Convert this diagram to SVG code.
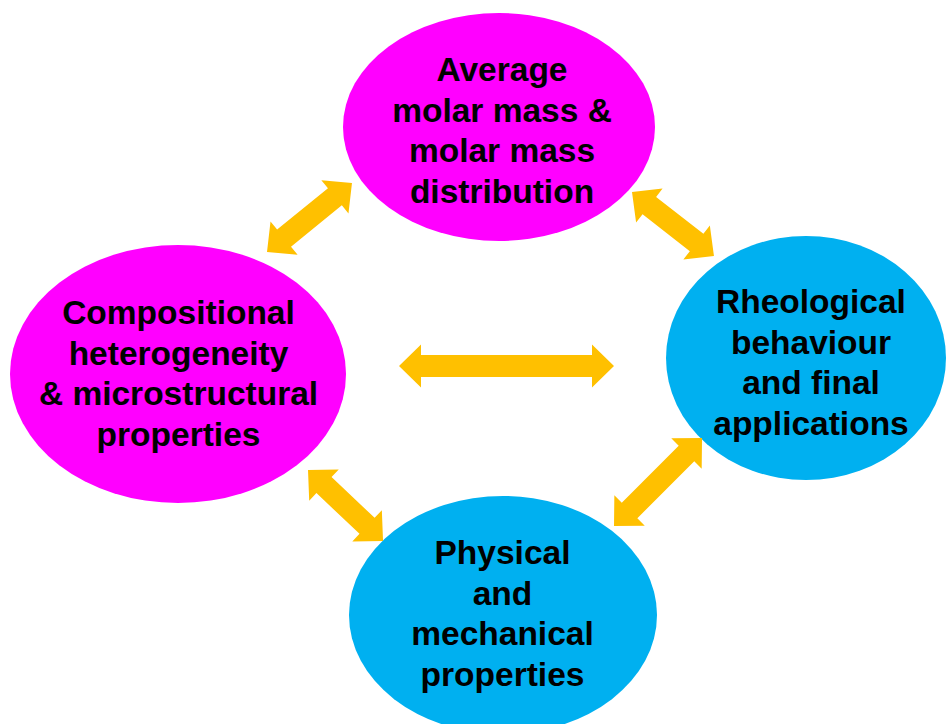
<svg xmlns="http://www.w3.org/2000/svg" width="946" height="724" viewBox="0 0 946 724">
<style>
.m{fill:#FF00FF}
.b{fill:#00B0F0}
.a{fill:#FFC000}
text{font-family:"Liberation Sans",Arial,sans-serif;font-weight:bold;font-size:33.5px;fill:#000;text-anchor:middle}
</style>
<rect width="946" height="724" fill="#fff"/>
<g id="n-molar">
<ellipse class="m" cx="499" cy="127" rx="156" ry="114"/>
<text x="502" y="81">Average</text>
<text x="502" y="121.5">molar mass &amp;</text>
<text x="502" y="162">molar mass</text>
<text x="502" y="202.5">distribution</text>
</g>
<g id="n-comp">
<ellipse class="m" cx="178" cy="374" rx="168" ry="129"/>
<text x="178.5" y="324">Compositional</text>
<text x="178.5" y="364.5">heterogeneity</text>
<text x="178.5" y="405">&amp; microstructural</text>
<text x="178.5" y="445.5">properties</text>
</g>
<g id="n-rheo">
<ellipse class="b" cx="806" cy="358" rx="140" ry="122"/>
<text x="811" y="313">Rheological</text>
<text x="811" y="353.5">behaviour</text>
<text x="811" y="394">and final</text>
<text x="811" y="434.5">applications</text>
</g>
<g id="n-phys">
<ellipse class="b" cx="503" cy="615" rx="154" ry="119"/>
<text x="502.5" y="564">Physical</text>
<text x="502.5" y="604.5">and</text>
<text x="502.5" y="645">mechanical</text>
<text x="502.5" y="685.5">properties</text>
</g>
<g id="connectors">
<path class="a" transform="translate(399,366)" d="M0,0 L22,-21.5 L22,-11 L193,-11 L193,-21.5 L215,0 L193,21.5 L193,11 L22,11 L22,21.5 Z"/>
<path class="a" transform="translate(267,252) rotate(-39.1)" d="M0,0 L22,-21.5 L22,-11 L87.5,-11 L87.5,-21.5 L109.5,0 L87.5,21.5 L87.5,11 L22,11 L22,21.5 Z"/>
<path class="a" transform="translate(632,192) rotate(38)" d="M0,0 L22,-21.5 L22,-11 L82,-11 L82,-21.5 L104,0 L82,21.5 L82,11 L22,11 L22,21.5 Z"/>
<path class="a" transform="translate(614,526) rotate(-45)" d="M0,0 L22,-21.5 L22,-11 L102.5,-11 L102.5,-21.5 L124.5,0 L102.5,21.5 L102.5,11 L22,11 L22,21.5 Z"/>
<path class="a" transform="translate(308,470) rotate(43.4)" d="M0,0 L22,-21.5 L22,-11 L81.3,-11 L81.3,-21.5 L103.3,0 L81.3,21.5 L81.3,11 L22,11 L22,21.5 Z"/>
</g>
</svg>
